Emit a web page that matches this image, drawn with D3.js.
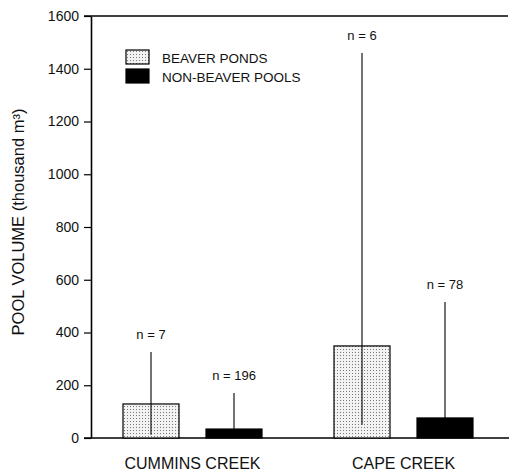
<!DOCTYPE html>
<html lang="en">
<head>
    <meta charset="UTF-8">
    <title>Pool volume</title>
    <script type="text/javascript" src="https://d3js.org/d3.v7.min.js"></script>
    <style>
        body { margin: 0; background: #fff; }
        text { font-family: "Liberation Sans", Arial, sans-serif; fill: #111; }
    </style>
</head>
<body>
    <svg class="canvas"></svg>
    <script type="text/javascript">
        var svg_width = 513, svg_height = 472;

        var creeks = ['CUMMINS CREEK', 'CAPE CREEK'];
        var series = ['BEAVER PONDS', 'NON-BEAVER POOLS'];
        // mean volume per creek, one array per series
        var beaverMean = [129, 349];
        var nonBeaverMean = [34, 76];
        // whisker low / high
        var beaverLow = [12, 50];
        var beaverHigh = [326, 1460];
        var nonBeaverLow = [34, 76];
        var nonBeaverHigh = [171, 516];
        var beaverN = [7, 6];
        var nonBeaverN = [196, 78];
        var yTicks = [0, 200, 400, 600, 800, 1000, 1200, 1400, 1600];

        var rows = [];
        creeks.forEach(function(c, i) {
            rows.push({creek: c, series: series[0], mean: beaverMean[i], lo: beaverLow[i], hi: beaverHigh[i], n: beaverN[i]});
            rows.push({creek: c, series: series[1], mean: nonBeaverMean[i], lo: nonBeaverLow[i], hi: nonBeaverHigh[i], n: nonBeaverN[i]});
        });

        var svg = d3.select('svg').attr('width', svg_width).attr('height', svg_height);

        // stipple pattern for beaver ponds
        var defs = svg.append('defs');
        var pat = defs.append('pattern').attr('id', 'stipple')
            .attr('patternUnits', 'userSpaceOnUse').attr('width', 3).attr('height', 3);
        pat.append('rect').attr('width', 3).attr('height', 3).attr('fill', '#f2f2f2');
        pat.append('rect').attr('x', 1).attr('y', 1).attr('width', 1).attr('height', 1).attr('fill', '#7a7a7a');

        var yScale = d3.scaleLinear().domain([0, 1600]).range([438, 16]);
        var x0 = d3.scaleBand().domain(creeks).range([87, 509]);
        var x1 = d3.scaleBand().domain(series).range([0, 139]).paddingInner(27 / 83);
        var groupOff = (x0.bandwidth() - 139) / 2;

        var fillFor = function(s) {
            return s === series[0] ? 'url(#stipple)' : '#000';
        };

        // axis
        var yAxis = d3.axisLeft(yScale).tickValues(yTicks).tickFormat(d3.format('d'))
            .tickSize(7).tickPadding(5).tickSizeOuter(0);
        var ag = svg.append('g').attr('transform', 'translate(91,0)').call(yAxis);
        ag.select('.domain').attr('stroke-width', 1.6);
        ag.selectAll('.tick line').attr('stroke-width', 1.2);
        ag.selectAll('.tick text').style('font-size', '14px').attr('fill', '#111');

        // frame top and baseline
        svg.append('line').attr('x1', 84).attr('x2', 508).attr('y1', yScale(1600)).attr('y2', yScale(1600))
            .attr('stroke', '#000').attr('stroke-width', 1.6);
        svg.append('line').attr('x1', 84).attr('x2', 509).attr('y1', yScale(0)).attr('y2', yScale(0))
            .attr('stroke', '#000').attr('stroke-width', 1.4);

        svg.append('text')
            .attr('transform', 'translate(24,222) rotate(-90)')
            .attr('text-anchor', 'middle')
            .style('font-size', '16.5px')
            .text('POOL VOLUME (thousand m³)');

        var bx = function(d) { return x0(d.creek) + groupOff + x1(d.series); };

        svg.selectAll('rect.bar').data(rows).enter().append('rect')
            .attr('class', 'bar')
            .attr('x', bx)
            .attr('y', function(d) { return yScale(d.mean); })
            .attr('width', x1.bandwidth())
            .attr('height', function(d) { return yScale(0) - yScale(d.mean); })
            .attr('fill', function(d) { return fillFor(d.series); })
            .attr('stroke', '#000').attr('stroke-width', 1.2);

        svg.selectAll('line.err').data(rows).enter().append('line')
            .attr('class', 'err')
            .attr('x1', function(d) { return bx(d) + x1.bandwidth() / 2; })
            .attr('x2', function(d) { return bx(d) + x1.bandwidth() / 2; })
            .attr('y1', function(d) { return yScale(d.lo); })
            .attr('y2', function(d) { return yScale(d.hi); })
            .attr('stroke', '#000').attr('stroke-width', 1.1);

        svg.selectAll('text.n').data(rows).enter().append('text')
            .attr('class', 'n')
            .attr('x', function(d) { return bx(d) + x1.bandwidth() / 2; })
            .attr('y', function(d) { return yScale(d.hi) - 13; })
            .attr('text-anchor', 'middle')
            .style('font-size', '13px')
            .text(function(d) { return 'n = ' + d.n; });

        svg.selectAll('text.cat').data(creeks).enter().append('text')
            .attr('class', 'cat')
            .attr('x', function(d) { return x0(d) + x0.bandwidth() / 2; })
            .attr('y', 469)
            .attr('text-anchor', 'middle')
            .style('font-size', '16px')
            .text(function(d) { return d; });

        // legend
        var lg = svg.append('g').selectAll('g').data(series).enter().append('g')
            .attr('transform', function(d, i) { return 'translate(126,' + (50 + i * 19) + ')'; });
        lg.append('rect').attr('width', 23).attr('height', 14)
            .attr('fill', function(d) { return fillFor(d); })
            .attr('stroke', '#000').attr('stroke-width', 1.2);
        lg.append('text').attr('x', 36).attr('y', 13)
            .style('font-size', '13.5px')
            .text(function(d) { return d; });
    </script>
</body>
</html>
